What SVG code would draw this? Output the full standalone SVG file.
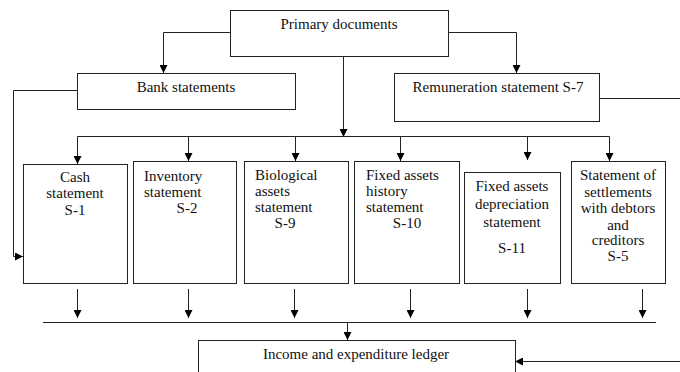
<svg xmlns="http://www.w3.org/2000/svg" width="680" height="372" viewBox="0 0 680 372" font-family="'Liberation Serif', 'Times New Roman', Tinos, 'DejaVu Serif', serif">
<defs>
<marker id="ah" viewBox="0 0 10 10" refX="10" refY="5" markerWidth="8" markerHeight="8" markerUnits="userSpaceOnUse" orient="auto">
<path d="M0,0 L10,5 L0,10 Z" fill="#000"/>
</marker>
</defs>
<style>
.box{fill:#fff;stroke:#222;stroke-width:1}
.ln{fill:none;stroke:#222;stroke-width:1}
.ar{fill:none;stroke:#222;stroke-width:1;marker-end:url(#ah)}
text{font-family:'Liberation Serif','Times New Roman',Tinos,'DejaVu Serif',serif;font-size:15px;fill:#111}
.c{text-anchor:middle}
</style>
<rect width="680" height="372" fill="#fff"/>
<g id="connectors">
<path class="ar" d="M230.5,32.5 H163.5 V73"/>
<path class="ar" d="M448.5,32.5 H516.5 V73"/>
<path class="ar" d="M343.5,56 V137"/>
<path class="ln" d="M599,98.5 H680"/>
<path class="ar" d="M77,90.5 H13.5 V256.5 H23"/>
<path class="ln" d="M77.5,136.5 H609.5"/>
<path class="ar" d="M77.5,136.5 V164"/>
<path class="ar" d="M188.5,136.5 V161"/>
<path class="ar" d="M295.5,136.5 V161"/>
<path class="ar" d="M400.5,136.5 V161"/>
<path class="ar" d="M527.5,136.5 V160"/>
<path class="ar" d="M609.5,136.5 V161"/>
<path class="ar" d="M77.5,289 V318"/>
<path class="ar" d="M188.5,289 V318"/>
<path class="ar" d="M294.5,289 V318"/>
<path class="ar" d="M410.5,289 V318"/>
<path class="ar" d="M527.5,289 V318"/>
<path class="ar" d="M642.5,289 V318"/>
<path class="ln" d="M43,322.5 H656"/>
<path class="ar" d="M347.5,322.5 V340"/>
<path class="ar" d="M680,361.5 H515"/>
</g>
<g id="primary">
<rect class="box" x="230.5" y="10.5" width="218" height="46"/>
<text class="c" x="339" y="29">Primary documents</text>
</g>
<g id="bank">
<rect class="box" x="77.5" y="73.5" width="218" height="36"/>
<text class="c" x="186" y="92">Bank statements</text>
</g>
<g id="remuneration">
<rect class="box" x="394.5" y="73.5" width="205" height="48"/>
<text class="c" x="498" y="92">Remuneration statement S-7</text>
</g>
<g id="cash">
<rect class="box" x="23.5" y="164.5" width="104" height="119"/>
<text class="c" x="75" y="182">Cash</text>
<text class="c" x="75" y="198">statement</text>
<text class="c" x="75" y="215">S-1</text>
</g>
<g id="inventory">
<rect class="box" x="133.5" y="161.5" width="103" height="122"/>
<text x="144" y="181">Inventory</text>
<text x="144" y="197">statement</text>
<text class="c" x="187" y="213">S-2</text>
</g>
<g id="biological">
<rect class="box" x="244.5" y="161.5" width="104" height="122"/>
<text x="255" y="180">Biological</text>
<text x="255" y="196">assets</text>
<text x="255" y="212">statement</text>
<text class="c" x="285" y="228">S-9</text>
</g>
<g id="fixedhistory">
<rect class="box" x="354.5" y="161.5" width="105" height="122"/>
<text x="366" y="180">Fixed assets</text>
<text x="366" y="196">history</text>
<text x="366" y="212">statement</text>
<text class="c" x="407" y="228">S-10</text>
</g>
<g id="depreciation">
<rect class="box" x="464.5" y="172.5" width="96" height="111"/>
<text class="c" x="512" y="191">Fixed assets</text>
<text class="c" x="512" y="209">depreciation</text>
<text class="c" x="512" y="227">statement</text>
<text class="c" x="512" y="253">S-11</text>
</g>
<g id="settlements">
<rect class="box" x="571.5" y="161.5" width="94" height="122"/>
<text class="c" x="618" y="180">Statement of</text>
<text class="c" x="618" y="197">settlements</text>
<text class="c" x="618" y="213">with debtors</text>
<text class="c" x="618" y="230">and</text>
<text class="c" x="618" y="245">creditors</text>
<text class="c" x="618" y="261">S-5</text>
</g>
<g id="ledger">
<rect class="box" x="198.5" y="340.5" width="317" height="40"/>
<text class="c" x="356" y="359">Income and expenditure ledger</text>
</g>
</svg>
